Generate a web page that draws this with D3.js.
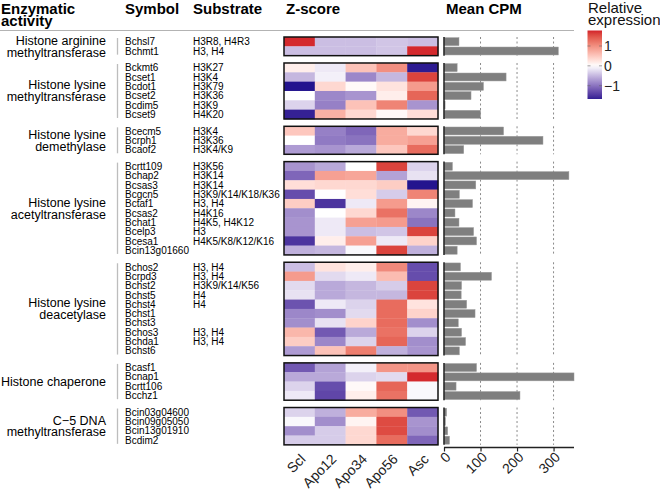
<!DOCTYPE html>
<html>
<head>
<meta charset="utf-8">
<script src="https://cdn.jsdelivr.net/npm/d3@7"></script>
<style>
  html, body { margin: 0; padding: 0; background: #fff; }
  svg { display: block; font-family: "Liberation Sans", Arial, Helvetica, sans-serif; }
</style>
</head>
<body>
<svg id="chart" width="660" height="490"></svg>
<script>
// ---------------- DATA ----------------
const samples = ["Scl", "Apo12", "Apo34", "Apo56", "Asc"];

const groupLabels = [
  ["Histone arginine", "methyltransferase"],
  ["Histone lysine", "methyltransferase"],
  ["Histone lysine", "demethylase"],
  ["Histone lysine", "acetyltransferase"],
  ["Histone lysine", "deacetylase"],
  ["Histone chaperone"],
  ["C\u22125 DNA", "methyltransferase"]
];
const groupSizes = [2, 6, 3, 10, 10, 4, 4];

const symbols = [
  "Bchsl7", "Bchmt1",
  "Bckmt6", "Bcset1", "Bcdot1", "Bcset2", "Bcdim5", "Bcset9",
  "Bcecm5", "Bcrph1", "Bcaof2",
  "Bcrtt109", "Bchap2", "Bcsas3", "Bcgcn5", "Bctaf1", "Bcsas2", "Bchat1", "Bcelp3", "Bcesa1", "Bcin13g01660",
  "Bchos2", "Bcrpd3", "Bchst2", "Bchst5", "Bchst4", "Bchst1", "Bchst3", "Bchos3", "Bchda1", "Bchst6",
  "Bcasf1", "Bcnap1", "Bcrtt106", "Bcchz1",
  "Bcin03g04600", "Bcin09g05050", "Bcin13g01910", "Bcdim2"
];

const substrates = [
  "H3R8, H4R3", "H3, H4",
  "H3K27", "H3K4", "H3K79", "H3K36", "H3K9", "H4K20",
  "H3K4", "H3K36", "H3K4/K9",
  "H3K56", "H3K14", "H3K14", "H3K9/K14/K18/K36", "H3, H4", "H4K16", "H4K5, H4K12", "H3", "H4K5/K8/K12/K16", "",
  "H3, H4", "H3, H4", "H3K9/K14/K56", "H4", "H4", "", "", "H3, H4", "H3, H4", "",
  "", "", "", "",
  "", "", "", ""
];

// Z-scores per gene: Scl, Apo12, Apo34, Apo56, Asc
const zscores = [
  [ 1.75, -0.45, -0.45, -0.40, -0.45],
  [-0.45, -0.45, -0.45, -0.40,  1.75],

  [ 0.15, -0.15,  0.55,  1.00, -1.70],
  [-0.50, -0.10, -0.85, -0.50,  1.60],
  [-1.75,  0.35,  0.05,  0.25,  0.90],
  [ 0.00, -0.85, -0.75,  0.15,  1.35],
  [-0.30, -0.90,  0.55,  1.10, -0.75],
  [-1.65,  0.70,  0.35,  0.05,  0.30],

  [ 0.50, -0.90, -1.10,  0.75,  0.35],
  [ 0.00, -0.95, -1.00,  0.75,  0.85],
  [-0.70, -0.75, -0.60,  0.50,  1.30],

  [-0.75, -0.60,  0.00,  1.60, -0.30],
  [-1.10,  0.85,  0.80, -0.65, -0.20],
  [ 0.30,  0.35,  0.35,  0.45, -1.75],
  [-1.30,  0.00,  0.30, -0.35,  1.10],
  [ 0.45, -1.50, -0.15,  0.90,  0.10],
  [-0.80,  0.00,  0.35,  1.25, -0.85],
  [-0.75, -0.15,  0.85,  0.90, -1.00],
  [-0.75, -0.15, -0.45, -0.40,  1.60],
  [-1.50,  0.15,  0.85, -0.15,  0.40],
  [-0.55, -0.50, -0.05,  1.60, -0.55],

  [-0.45,  0.25,  0.15,  1.05, -1.30],
  [ 0.90, -0.25, -0.15,  0.60, -1.30],
  [-0.25, -0.60, -0.50, -0.35,  1.60],
  [-0.20, -0.60, -0.50, -0.50,  1.60],
  [-1.25, -0.15, -0.30,  1.30,  0.25],
  [-0.85, -0.80, -0.25,  1.30,  0.40],
  [-0.80, -0.20,  0.40,  1.30, -0.80],
  [ 0.65, -1.20, -0.60,  1.25, -0.30],
  [ 0.45, -0.85, -0.30,  1.35, -0.80],
  [-0.70,  0.55,  1.15, -0.55, -0.75],

  [-1.20, -0.65, -0.10,  0.95,  0.95],
  [-0.60, -0.60, -0.30, -0.25,  1.75],
  [-0.30, -1.30,  0.05,  1.35, -0.05],
  [-0.15, -1.35,  0.15,  1.25, -0.05],

  [-0.30, -0.55,  0.75,  1.00, -1.20],
  [-0.05, -0.80,  0.10,  1.55, -0.75],
  [-0.80, -0.35,  0.35,  1.55, -0.80],
  [-0.35, -0.35,  0.35,  1.30, -1.10]
];

const meanCPM = [
  41, 313,
  36, 170, 108, 74, 3, 100,
  163, 271, 54,
  23, 342, 87, 42, 78, 30, 41, 81, 89, 36,
  45, 130, 48, 47, 62, 85, 39, 48, 59, 42,
  89, 400, 33, 208,
  7, 4, 10, 15
];

const cpmTicks = [0, 100, 200, 300];
const legendTicks = [1, 0, -1];
const legendTitle = ["Relative", "expression"];
const headers = ["Enzymatic", "activity", "Symbol", "Substrate", "Z-score", "Mean CPM"];

// ---------------- LAYOUT ----------------
const svg = d3.select("#chart");
const FONT = "'Liberation Sans', Arial, Helvetica, sans-serif";
const top0 = 37, rowH = 9.33, gapH = 7.33;

const starts = [0, ...d3.cumsum(groupSizes)];
const groups = groupSizes.map((n, i) => {
  const gt = top0 + starts[i] * rowH + i * gapH;
  const genes = symbols.slice(starts[i], starts[i] + n);
  const y = d3.scaleBand().domain(genes).range([gt, gt + n * rowH]);
  return { i, n, gt, gb: gt + n * rowH, genes, y, first: starts[i] };
});

const x = d3.scaleBand().domain(samples).range([284, 438]);
const xb = d3.scaleLinear().domain([0, 356]).range([444, 574]).clamp(true);
const zMax = 1.78;
const color = d3.scaleLinear()
  .domain([-zMax, 0, zMax])
  .range(["#1c108c", "#ffffff", "#d3222a"])
  .interpolate(d3.interpolateLab);

// ---------------- HEADERS ----------------
const hdr = svg.append("g").attr("font-family", FONT).attr("font-weight", "bold").attr("font-size", 15).attr("fill", "#000");
hdr.append("text").attr("x", 1).attr("y", 13.5).text(headers[0]);
hdr.append("text").attr("x", 1).attr("y", 25.5).text(headers[1]);
hdr.append("text").attr("x", 125).attr("y", 13.5).text(headers[2]);
hdr.append("text").attr("x", 193).attr("y", 13.5).text(headers[3]);
hdr.append("text").attr("x", 286).attr("y", 13.5).text(headers[4]);
hdr.append("text").attr("x", 446).attr("y", 13.5).text(headers[5]);

svg.append("line").attr("x1", 0).attr("x2", 574).attr("y1", 30.5).attr("y2", 30.5)
  .attr("stroke", "#b3b3b3").attr("stroke-width", 1);

// ---------------- GROUPS ----------------
groups.forEach(g => {
  const gEl = svg.append("g");
  const cy = (g.gt + g.gb) / 2;
  const lines = groupLabels[g.i];
  const lh = 11.8;
  lines.forEach((t, k) => {
    const ly = cy + (k - (lines.length - 1) / 2) * lh + 4.4;
    gEl.append("text").attr("x", 106).attr("y", ly).attr("text-anchor", "end")
      .attr("font-family", FONT).attr("font-size", 12.5).attr("fill", "#000").text(t);
  });
  // separator
  gEl.append("line").attr("x1", 117.5).attr("x2", 117.5).attr("y1", g.gt + 1).attr("y2", g.gb - 1)
    .attr("stroke", "#bdbdbd").attr("stroke-width", 1.3);

  g.genes.forEach((s, k) => {
    const idx = g.first + k;
    const yc = g.y(s) + g.y.bandwidth() / 2 + 3.6;
    gEl.append("text").attr("x", 125).attr("y", yc).attr("font-family", FONT).attr("font-size", 10).text(s);
    if (substrates[idx]) gEl.append("text").attr("x", 193).attr("y", yc).attr("font-family", FONT).attr("font-size", 10).text(substrates[idx]);
    // heat cells
    samples.forEach((sm, j) => {
      gEl.append("rect")
        .attr("x", x(sm)).attr("y", g.y(s))
        .attr("width", x.bandwidth() + 0.3).attr("height", g.y.bandwidth() + 0.3)
        .attr("fill", color(zscores[idx][j]));
    });
  });
  // heat box
  gEl.append("rect").attr("x", x.range()[0]).attr("y", g.gt)
    .attr("width", x.range()[1] - x.range()[0]).attr("height", g.gb - g.gt)
    .attr("fill", "none").attr("stroke", "#111").attr("stroke-width", 1.5);

  // grid lines
  cpmTicks.filter(t => t > 0).forEach(t => {
    gEl.append("line").attr("x1", xb(t)).attr("x2", xb(t)).attr("y1", g.gt).attr("y2", g.gb)
      .attr("stroke", "#8a8a8a").attr("stroke-width", 1).attr("stroke-dasharray", "2,2.5");
  });
  // bars
  const bpad = 0.7;
  g.genes.forEach((s, k) => {
    const idx = g.first + k;
    gEl.append("rect")
      .attr("x", xb(0)).attr("y", g.y(s) + bpad)
      .attr("width", xb(meanCPM[idx]) - xb(0)).attr("height", g.y.bandwidth() - 2 * bpad)
      .attr("fill", "#7f7f7f").attr("stroke", "#9a9a9a").attr("stroke-width", 0.5);
  });
  // bar axis vertical line
  gEl.append("line").attr("x1", xb(0)).attr("x2", xb(0)).attr("y1", g.gt).attr("y2", g.gb)
    .attr("stroke", "#222").attr("stroke-width", 1.5);
});

// ---------------- HEATMAP COLUMN LABELS ----------------
samples.forEach(s => {
  const px = x(s) + x.bandwidth() / 2 + 7, py = 460;
  svg.append("text").attr("transform", `translate(${px},${py}) rotate(-45)`)
    .attr("text-anchor", "end").attr("font-family", FONT).attr("font-size", 14).attr("fill", "#222").text(s);
});

// ---------------- BAR X AXIS ----------------
const axisY = 447.5;
const axG = svg.append("g").attr("transform", `translate(0,${axisY})`);
axG.call(d3.axisBottom(xb).tickValues(cpmTicks).tickSize(4).tickFormat(d3.format("d")));
axG.select(".domain").attr("stroke", "#222").attr("stroke-width", 1.5).attr("d", `M${xb(0)},0H${xb.range()[1]}`);
axG.selectAll(".tick line").attr("stroke", "#222").attr("stroke-width", 1.2);
axG.selectAll(".tick text")
  .attr("font-family", FONT).attr("font-size", 14).attr("fill", "#222")
  .attr("text-anchor", "end").attr("dy", null).attr("y", null)
  .attr("transform", "translate(7,10.5) rotate(-45)");

// ---------------- LEGEND ----------------
const ly = d3.scaleLinear().domain([-1.67, 1.78]).range([99, 30.5]);
const defs = svg.append("defs");
const grad = defs.append("linearGradient").attr("id", "lg").attr("x1", 0).attr("x2", 0).attr("y1", 1).attr("y2", 0);
d3.range(0, 1.0001, 0.05).forEach(t => {
  const v = ly.domain()[0] + t * (ly.domain()[1] - ly.domain()[0]);
  grad.append("stop").attr("offset", t).attr("stop-color", color(v));
});
svg.append("rect").attr("x", 587.5).attr("y", ly(1.78)).attr("width", 14.5).attr("height", ly(-1.67) - ly(1.78))
  .attr("fill", "url(#lg)");
legendTicks.forEach(t => {
  svg.append("line").attr("x1", 587.5).attr("x2", 590.5).attr("y1", ly(t)).attr("y2", ly(t)).attr("stroke", "#666").attr("stroke-opacity", 0.6);
  svg.append("line").attr("x1", 599).attr("x2", 602).attr("y1", ly(t)).attr("y2", ly(t)).attr("stroke", "#666").attr("stroke-opacity", 0.6);
  svg.append("text").attr("x", 604).attr("y", ly(t) + 5).attr("font-family", FONT).attr("font-size", 14).attr("fill", "#222")
    .text(t < 0 ? "\u2212" + Math.abs(t) : String(t));
});
legendTitle.forEach((t, k) => {
  svg.append("text").attr("x", 588).attr("y", 12.5 + k * 12.5).attr("font-family", FONT).attr("font-size", 15).attr("fill", "#111").text(t);
});
</script>
</body>
</html>
